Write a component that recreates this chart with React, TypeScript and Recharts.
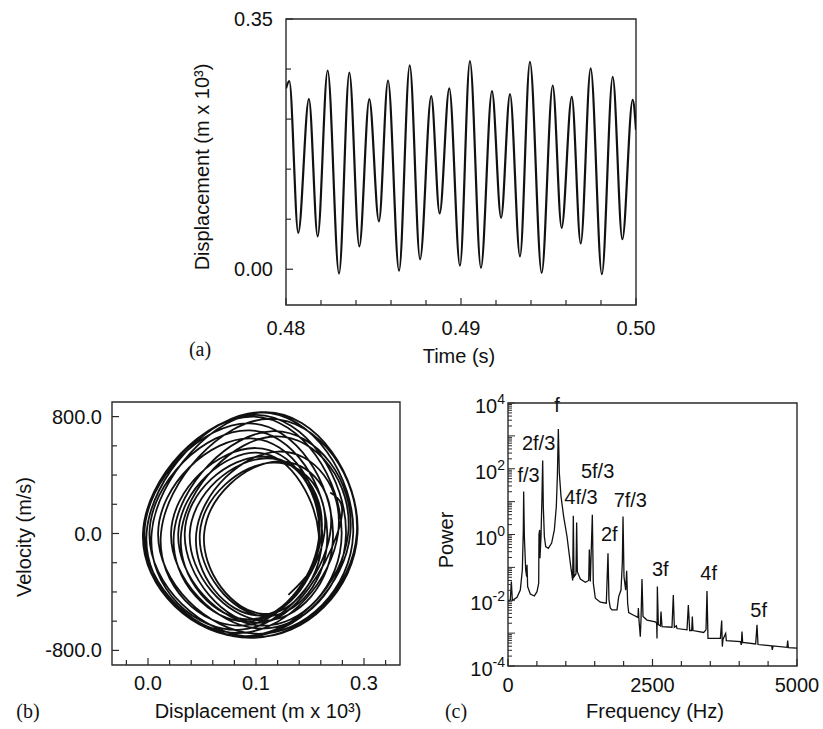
import React from "react"
import { LineChart, Line, XAxis, YAxis, ReferenceArea, ReferenceDot } from "recharts"

const INK = "#111"
const AXIS = "#2a2a2a"
const SANS = '"Liberation Sans", Arial, Helvetica, sans-serif'
const SERIF = '"Liberation Serif", "Times New Roman", serif'

// (a) displacement history, read at every peak and trough
const timeS = [
  0.48, 0.48019, 0.4807, 0.48131, 0.48181, 0.48238, 0.48303, 0.48362, 0.48419,
  0.48476, 0.48531, 0.48583, 0.48646, 0.48707, 0.48766, 0.4883, 0.48878, 0.48933,
  0.48994, 0.49051, 0.49114, 0.49177, 0.49229, 0.4928, 0.49337, 0.49394, 0.49461,
  0.49524, 0.49575, 0.49633, 0.49684, 0.49741, 0.49805, 0.49867, 0.49922, 0.49981, 0.5,
]
const displacement = [
  0.253, 0.263, 0.051, 0.238, 0.046, 0.278, -0.006, 0.275, 0.032, 0.238, 0.067,
  0.264, -0.002, 0.285, 0.014, 0.242, 0.078, 0.253, 0.005, 0.291, 0.002, 0.249,
  0.072, 0.245, 0.018, 0.29, -0.005, 0.257, 0.058, 0.241, 0.036, 0.281, -0.007,
  0.269, 0.042, 0.237, 0.195,
]
const timeTicks = [0.48, 0.482, 0.484, 0.486, 0.488, 0.49, 0.492, 0.494, 0.496, 0.498, 0.5]
const timeLabels: Record<string, string> = { "0.48": "0.48", "0.49": "0.49", "0.5": "0.50" }
const dispTicks = [0, 0.07, 0.14, 0.21, 0.28, 0.35]
const dispLabels: Record<string, string> = { "0": "0.00", "0.35": "0.35" }

// (b) phase portrait: turning points (v = 0) and the fastest point of each swing
const phaseDisp = [
  0.253, 0.263, 0.157, 0.051, 0.16, 0.238, 0.142, 0.046, 0.177, 0.278, 0.136, -0.006,
  0.15, 0.275, 0.154, 0.032, 0.15, 0.238, 0.153, 0.067, 0.181, 0.264, 0.131,
  -0.002, 0.157, 0.285, 0.15, 0.014, 0.143, 0.242, 0.16, 0.078, 0.181, 0.253,
  0.129, 0.005, 0.163, 0.291, 0.147, 0.002, 0.141, 0.249, 0.161, 0.072, 0.174,
  0.245, 0.132, 0.018, 0.169, 0.29, 0.143, -0.005, 0.141, 0.257, 0.158, 0.058,
  0.165, 0.241, 0.139, 0.036, 0.174, 0.281, 0.137, -0.007, 0.146, 0.269, 0.156,
  0.042, 0.155, 0.237, 0.195,
]
const phaseVel = [
  280, 0, -610, 0, 527, 0, -587, 0, 664, 0, -702, 0, 812, 0, -650, 0, 585, 0, -560, 0,
  561, 0, -680, 0, 830, 0, -686, 0, 651, 0, -550, 0, 494, 0, -658, 0, 830, 0,
  -709, 0, 706, 0, -566, 0, 485, 0, -630, 0, 785, 0, -715, 0, 754, 0, -594, 0,
  515, 0, -601, 0, 700, 0, -707, 0, 800, 0, -630, 0, 552, 0, -420,
]
const velTicks = [-800, -600, -400, -200, 0, 200, 400, 600, 800]
const velLabels: Record<string, string> = { "-800": "-800.0", "0": "0.0", "800": "800.0" }
const phaseTicks = [-0.03, 0, 0.03, 0.06, 0.09, 0.12, 0.15, 0.18, 0.21, 0.24, 0.27, 0.3, 0.33]
const phaseLabels: Record<string, string> = { "0": "0.0", "0.15": "0.1", "0.3": "0.3" }

// (c) power spectrum
const freqHz = [
  0, 40, 58, 75, 156, 213, 248, 265, 271, 283, 306, 323, 329, 340, 386, 456, 502,
  531, 536, 548, 553, 571, 588, 600, 611, 629, 652, 698, 755, 802, 836, 854, 871,
  888, 917, 963, 1021, 1078, 1119, 1130, 1142, 1176, 1188, 1200, 1251, 1338, 1396,
  1407, 1424, 1459, 1476, 1511, 1597, 1701, 1730, 1747, 1770, 1799, 1886, 1915,
  1955, 1978, 1990, 2007, 2036, 2053, 2070, 2088, 2174, 2249, 2255, 2266, 2289,
  2301, 2318, 2336, 2405, 2549, 2572, 2578, 2584, 2601, 2636, 2647, 2664, 2837,
  2860, 2878, 2912, 2924, 3097, 3120, 3143, 3178, 3189, 3201, 3385, 3426, 3443,
  3460, 3674, 3697, 3708, 3720, 3766, 3777, 4020, 4037, 4048, 4060, 4285, 4308,
  4325, 4562, 4573, 4585, 4827, 4839, 4850, 5000,
]
const power = [
  9.1e-3, 1.02e-2, 3.7e-2, 9.8e-3, 1.23e-2, 2.04e-2, 8.3e-2, 1.38, 20.4, 0.87,
  8.3e-2, 5.2e-2, 0.12, 2.6e-2, 1.55e-2, 1.35e-2, 1.82e-2, 3.3e-2, 1.0, 1.38,
  0.19, 0.87, 14.5, 178, 7.1, 0.87, 0.43, 0.38, 0.55, 1.38, 7.1, 59, 1620, 74,
  14.5, 3.5, 0.87, 0.135, 4.0e-2, 3.7, 5.2e-2, 6.3e-2, 2.3, 7.4e-2, 4.4e-2,
  3.5e-2, 4.0e-2, 0.35, 3.7e-2, 4.0, 3.3e-2, 1.15e-2, 8.7e-3, 8.1e-3, 0.27,
  1.02e-2, 5.8e-3, 5.1e-3, 5.1e-3, 1.29e-2, 2.04e-2, 0.135, 3.5, 5.2e-2, 2.04e-2,
  7.9e-2, 8.1e-3, 4.2e-3, 3.5e-3, 3.0e-3, 5.8e-3, 2.5e-3, 7.8e-4, 2.5e-3, 4.4e-2,
  3.2e-3, 2.5e-3, 2.2e-3, 2.0e-3, 6.9e-4, 2.6e-2, 1.8e-3, 1.66e-3, 4.5e-3,
  1.58e-3, 1.51e-3, 1.45e-2, 1.51e-3, 1.66e-3, 1.38e-3, 1.26e-3, 7.2e-3, 1.2e-3,
  1.2e-3, 3.2e-3, 1.2e-3, 1.05e-3, 1.26e-3, 1.9e-2, 6.9e-4, 6.9e-4, 2.4e-3,
  3.9e-4, 6.5e-4, 9.8e-4, 5.9e-4, 5.5e-4, 4.4e-4, 1.12e-3, 5.2e-4, 4.7e-4,
  1.8e-3, 4.5e-4, 4.1e-4, 3.1e-4, 4.1e-4, 3.7e-4, 5.9e-4, 3.6e-4, 3.5e-4,
]
const freqTicks = [0, 500, 1000, 1500, 2000, 2500, 3000, 3500, 4000, 4500, 5000]
const freqLabels: Record<string, string> = { "0": "0", "2500": "2500", "5000": "5000" }
const powerDecades = [1e-4, 1e-3, 1e-2, 1e-1, 1, 10, 100, 1e3, 1e4]
const powerLabelled = [1e-4, 1e-2, 1, 100, 1e4]

const peakNames = ["f/3", "2f/3", "f", "4f/3", "5f/3", "7f/3", "2f", "3f", "4f", "5f"]
const peakNameFreq = [356, 529, 848, 1263, 1550, 2116, 1753, 2635, 3471, 4336]
const peakNamePower = [66, 600, 8900, 13.8, 89, 11.5, 1.05, 0.089, 0.069, 0.0051]

const seriesA = timeS.map((t, i) => ({ t, d: displacement[i] }))
const seriesB = phaseDisp.map((x, i) => ({ x, v: phaseVel[i] }))
const seriesC = freqHz.map((f, i) => ({ f, p: power[i] }))

const powerTicks: number[] = []
powerDecades.forEach((d, i) => {
  powerTicks.push(d)
  if (i < powerDecades.length - 1) for (let m = 2; m <= 9; m++) powerTicks.push(m * d)
})

function bottomTick(labels: Record<string, string>, drop: number) {
  return (props: any) => {
    const { x, y, payload } = props
    const label = labels[String(payload.value)]
    return (
      <g>
        <line x1={x} y1={y} x2={x} y2={y - (label ? 7 : 5)} stroke={AXIS} strokeWidth={1.2} />
        {label && (
          <text x={x} y={y + drop} textAnchor="middle" fontSize={20} fill={INK}>
            {label}
          </text>
        )}
      </g>
    )
  }
}

function leftTick(labels: Record<string, string>, gap: number) {
  return (props: any) => {
    const { x, y, payload } = props
    const label = labels[String(payload.value)]
    return (
      <g>
        <line x1={x} y1={y} x2={x + (label ? 7 : 5)} y2={y} stroke={AXIS} strokeWidth={1.2} />
        {label && (
          <text x={x - gap} y={y} dy="0.35em" textAnchor="end" fontSize={20} fill={INK}>
            {label}
          </text>
        )}
      </g>
    )
  }
}

function powerTick(props: any) {
  const { x, y, payload } = props
  const v: number = payload.value
  const isDecade = powerDecades.includes(v)
  const isLabelled = powerLabelled.includes(v)
  const exp = Math.round(Math.log10(v))
  return (
    <g>
      <line x1={x} y1={y} x2={x + (isDecade ? 7 : 4)} y2={y} stroke={AXIS} strokeWidth={1} />
      {isLabelled && (
        <text x={x - 3} y={y + 10} textAnchor="end" fontSize={20} fill={INK}>
          10
          <tspan dy={-9} fontSize={14}>
            {String(exp)}
          </tspan>
        </text>
      )}
    </g>
  )
}

function TimePanel() {
  return (
    <LineChart width={500} height={380} data={seriesA} margin={{ top: 19, right: 44, bottom: 0, left: 0 }}>
      <XAxis
        dataKey="t"
        type="number"
        domain={[0.48, 0.5]}
        allowDataOverflow
        ticks={timeTicks}
        interval={0}
        height={75}
        axisLine={false}
        tickLine={false}
        tickSize={0}
        tickMargin={0}
        tick={bottomTick(timeLabels, 30)}
      />
      <YAxis
        type="number"
        domain={[-0.05, 0.35]}
        allowDataOverflow
        ticks={dispTicks}
        interval={0}
        width={106}
        axisLine={false}
        tickLine={false}
        tickSize={0}
        tickMargin={0}
        tick={leftTick(dispLabels, 13)}
      />
      <ReferenceArea x1={0.48} x2={0.5} y1={-0.05} y2={0.35} fill="none" stroke={AXIS} strokeWidth={1.4} ifOverflow="visible" />
      <Line dataKey="d" type="monotone" stroke={INK} strokeWidth={2.2} dot={false} isAnimationActive={false} />
    </LineChart>
  )
}

function PhasePanel() {
  return (
    <LineChart width={420} height={339} data={seriesB} margin={{ top: 12, right: 20, bottom: 0, left: 0 }}>
      <XAxis
        dataKey="x"
        type="number"
        domain={[-0.05, 0.35]}
        allowDataOverflow
        ticks={phaseTicks}
        interval={0}
        height={64}
        axisLine={false}
        tickLine={false}
        tickSize={0}
        tickMargin={0}
        tick={bottomTick(phaseLabels, 25)}
      />
      <YAxis
        type="number"
        domain={[-900, 900]}
        allowDataOverflow
        ticks={velTicks}
        interval={0}
        width={112}
        axisLine={false}
        tickLine={false}
        tickSize={0}
        tickMargin={0}
        tick={leftTick(velLabels, 10)}
      />
      <ReferenceArea x1={-0.05} x2={0.35} y1={-900} y2={900} fill="none" stroke={AXIS} strokeWidth={1.4} ifOverflow="visible" />
      <Line dataKey="v" type="natural" stroke={INK} strokeWidth={1.8} dot={false} isAnimationActive={false} />
    </LineChart>
  )
}

function SpectrumPanel() {
  return (
    <LineChart width={413} height={339} data={seriesC} margin={{ top: 13, right: 26, bottom: 0, left: 0 }}>
      <XAxis
        dataKey="f"
        type="number"
        domain={[0, 5000]}
        allowDataOverflow
        ticks={freqTicks}
        interval={0}
        height={63}
        axisLine={false}
        tickLine={false}
        tickSize={0}
        tickMargin={0}
        tick={bottomTick(freqLabels, 26)}
      />
      <YAxis
        type="number"
        scale="log"
        domain={[1e-4, 1e4]}
        allowDataOverflow
        ticks={powerTicks}
        interval={0}
        width={98}
        axisLine={false}
        tickLine={false}
        tickSize={0}
        tickMargin={0}
        tick={powerTick}
      />
      <ReferenceArea x1={0} x2={5000} y1={1e-4} y2={1e4} fill="none" stroke={AXIS} strokeWidth={1.4} ifOverflow="visible" />
      <Line dataKey="p" type="linear" stroke={INK} strokeWidth={1.3} dot={false} isAnimationActive={false} />
      {peakNames.map((name, i) => (
        <ReferenceDot
          key={name}
          x={peakNameFreq[i]}
          y={peakNamePower[i]}
          r={0}
          fill="none"
          stroke="none"
          ifOverflow="visible"
          label={{ value: name, position: "center", fontSize: 20, fill: INK }}
        />
      ))}
    </LineChart>
  )
}

export default function App() {
  return (
    <div
      style={{
        position: "absolute",
        left: 0,
        top: 0,
        width: 823,
        height: 729,
        background: "#fff",
        fontFamily: SANS,
      }}
    >
      <div style={{ position: "absolute", left: 180, top: 0 }}>
        <TimePanel />
      </div>
      <div style={{ position: "absolute", left: 0, top: 390 }}>
        <PhasePanel />
      </div>
      <div style={{ position: "absolute", left: 410, top: 390 }}>
        <SpectrumPanel />
      </div>
      <svg
        width={823}
        height={729}
        style={{ position: "absolute", left: 0, top: 0, pointerEvents: "none" }}
        fontSize={20}
        fill={INK}
      >
        <text transform="translate(209,167) rotate(-90)" textAnchor="middle">
          Displacement (m x 10³)
        </text>
        <text x={459} y={363} textAnchor="middle">
          Time (s)
        </text>
        <text x={200} y={356} textAnchor="middle" fontFamily={SERIF}>
          (a)
        </text>
        <text transform="translate(31,537) rotate(-90)" textAnchor="middle">
          Velocity (m/s)
        </text>
        <text x={258} y={718} textAnchor="middle">
          Displacement (m x 10³)
        </text>
        <text x={28} y={718} textAnchor="middle" fontFamily={SERIF}>
          (b)
        </text>
        <text transform="translate(453,540) rotate(-90)" textAnchor="middle">
          Power
        </text>
        <text x={655} y={718} textAnchor="middle">
          Frequency (Hz)
        </text>
        <text x={456} y={718} textAnchor="middle" fontFamily={SERIF}>
          (c)
        </text>
      </svg>
    </div>
  )
}
